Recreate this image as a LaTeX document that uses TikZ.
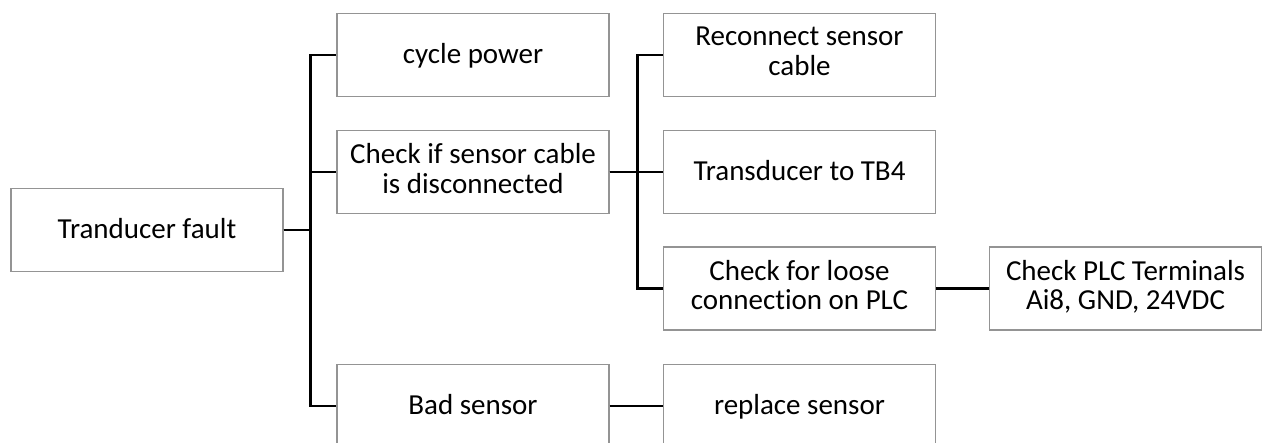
\documentclass[tikz,border=0pt]{standalone}
\usepackage{fontspec}
\setmainfont{Carlito}[Ligatures=NoCommon]
\usetikzlibrary{positioning}

\begin{document}
\begin{tikzpicture}[
	box/.style={shape=rectangle, draw=black!42, line width=0.6pt, minimum width=5.44cm, minimum height=1.66cm, align=center, font=\fontsize{16.5}{17}\selectfont, execute at begin node=\rule[-0.25em]{0pt}{1.1em}, execute at end node=\rule[-0.25em]{0pt}{1.1em}},
	conn/.style={line width=1.3pt, black}]
		\useasboundingbox (0,0) rectangle (25.28,-8.86);
		% first level
		\draw (2.94,-4.6) node[box](fault){Tranducer fault};
		\draw (9.46,-1.1) node[box](cycle){cycle power};
		\draw (9.46,-3.44) node[box](check){Check if sensor cable\\is disconnected};
		\draw (9.46,-8.12) node[box](bad){Bad sensor};
		% second level
		\draw (15.99,-1.1) node[box](reconnect){Reconnect sensor\\cable};
		\draw (15.99,-3.44) node[box](tb4){Transducer to TB4};
		\draw (15.99,-5.77) node[box](loose){Check for loose\\connection on PLC};
		\draw (15.99,-8.12) node[box](replace){replace sensor};
		\draw (22.51,-5.77) node[box](terminals){Check PLC Terminals\\Ai8, GND, 24VDC};

		\draw[conn] (fault.east) -- ++(0.54,0) |- (cycle.west);
		\draw[conn] (fault.east) -- ++(0.54,0) |- (check.west);
		\draw[conn] (fault.east) -- ++(0.54,0) |- (bad.west);
		\draw[conn] (check.east) -- ++(0.56,0) |- (reconnect.west);
		\draw[conn] (check.east) -- (tb4.west);
		\draw[conn] (check.east) -- ++(0.56,0) |- (loose.west);
		\draw[conn] (loose.east) -- (terminals.west);
		\draw[conn] (bad.east) -- (replace.west);

	\end{tikzpicture}
\end{document}
